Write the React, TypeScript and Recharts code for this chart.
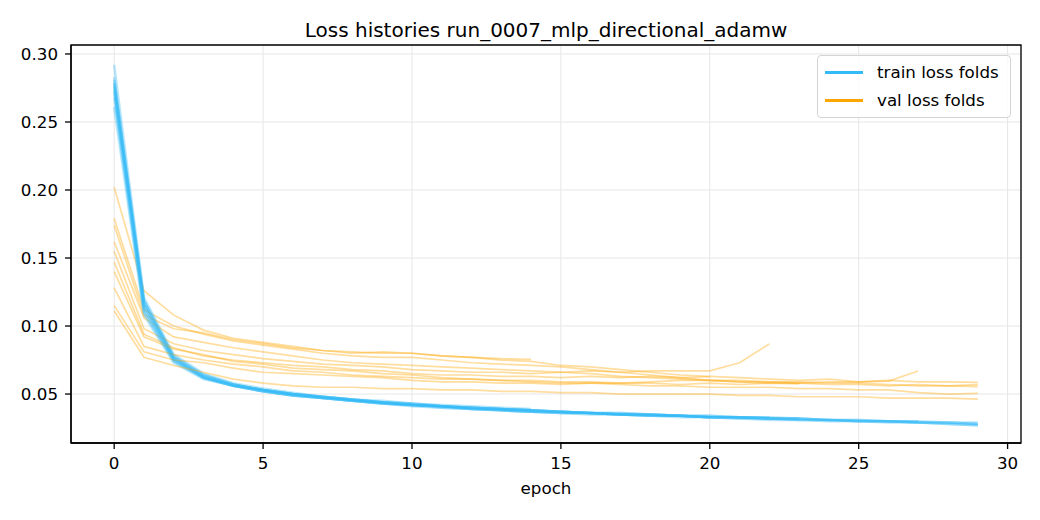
import React from 'react';
import { LineChart, Line, XAxis, YAxis, CartesianGrid, ReferenceArea } from 'recharts';

const epochs = [0, 1, 2, 3, 4, 5, 6, 7, 8, 9, 10, 11, 12, 13, 14, 15, 16, 17, 18, 19, 20, 21, 22, 23, 24, 25, 26, 27, 28, 29];
const xTicks = [0, 5, 10, 15, 20, 25, 30];
const yTicks = [0.05, 0.1, 0.15, 0.2, 0.25, 0.3];
const X_DOMAIN: [number, number] = [-1.45, 30.45];
const Y_DOMAIN: [number, number] = [0.014, 0.3066];

const train1 = [0.281, 0.118, 0.077, 0.063, 0.057, 0.053, 0.050, 0.047, 0.045, 0.044, 0.042, 0.041, 0.040, 0.039, 0.038, 0.037, 0.036, 0.035, 0.035, 0.034, 0.033, 0.033, 0.032, 0.032, 0.031, 0.030, 0.030, 0.029, 0.029, 0.028];
const train2 = [0.278, 0.115, 0.076, 0.062, 0.056, 0.053, 0.050, 0.048, 0.046, 0.044, 0.043, 0.041, 0.040, 0.039, 0.038, 0.037, 0.036, 0.036, 0.035, 0.034, 0.034, 0.033, 0.032, 0.032, 0.031, 0.031, 0.030, 0.030, 0.029, 0.029];
const train3 = [0.292, 0.121, 0.079, 0.065, 0.058, 0.054, 0.051, 0.048, 0.046, 0.045, 0.043, 0.042, 0.041, 0.040, 0.039];
const train4 = [0.261, 0.108, 0.073, 0.061, 0.056, 0.052, 0.049, 0.047, 0.045, 0.043, 0.041, 0.040, 0.039, 0.038, 0.037, 0.036, 0.035, 0.035, 0.034, 0.033, 0.033, 0.032, 0.031, 0.031, 0.030, 0.030, 0.029, 0.029, 0.028, 0.027];
const train5 = [0.276, 0.117, 0.078, 0.064, 0.057, 0.053, 0.050, 0.048, 0.046, 0.044, 0.042, 0.041, 0.040, 0.039, 0.038, 0.037, 0.036, 0.035, 0.035, 0.034, 0.033, 0.033, 0.033];
const train6 = [0.272, 0.112, 0.075, 0.062, 0.056, 0.052, 0.049, 0.047, 0.045, 0.043, 0.042, 0.041, 0.039, 0.038, 0.037, 0.036, 0.036, 0.035, 0.034, 0.034, 0.033];
const train7 = [0.283, 0.119, 0.077, 0.064, 0.057, 0.053, 0.050, 0.048, 0.046, 0.044, 0.043, 0.041, 0.040, 0.039, 0.038, 0.037, 0.036, 0.036, 0.035, 0.034, 0.034, 0.033, 0.033, 0.032];
const train8 = [0.268, 0.110, 0.074, 0.062, 0.056, 0.052, 0.049, 0.047, 0.045, 0.043, 0.042, 0.040, 0.039, 0.038, 0.037, 0.036, 0.036, 0.035, 0.034, 0.034, 0.033, 0.032, 0.032, 0.031, 0.031, 0.030, 0.030, 0.029, 0.029, 0.028];
const train9 = [0.279, 0.116, 0.076, 0.063, 0.057, 0.053, 0.050, 0.048, 0.046, 0.044, 0.042, 0.041, 0.040, 0.039, 0.038, 0.037, 0.036, 0.035, 0.035, 0.034, 0.033, 0.033, 0.032, 0.032, 0.031, 0.031, 0.030, 0.030];
const train10 = [0.274, 0.113, 0.075, 0.062, 0.056, 0.052, 0.049, 0.047, 0.045, 0.043, 0.042, 0.041, 0.039, 0.038, 0.037, 0.037, 0.036, 0.035, 0.034, 0.034, 0.033, 0.033, 0.032, 0.031, 0.031, 0.030, 0.030, 0.029, 0.028, 0.027];

const val1 = [0.202, 0.126, 0.108, 0.097, 0.091, 0.088, 0.085, 0.082, 0.080, 0.081, 0.080, 0.078, 0.077, 0.075, 0.074, 0.071, 0.070, 0.068, 0.066, 0.064, 0.063, 0.062, 0.061, 0.060, 0.061, 0.059, 0.060, 0.059, 0.059, 0.0586];
const val2 = [0.179, 0.112, 0.100, 0.094, 0.089, 0.086, 0.083, 0.080, 0.078, 0.077, 0.077, 0.075, 0.073, 0.072, 0.071, 0.070, 0.068, 0.066, 0.064, 0.062, 0.060, 0.059, 0.058, 0.058, 0.057, 0.057, 0.056, 0.057, 0.056, 0.0569];
const val3 = [0.174, 0.108, 0.098, 0.095, 0.090, 0.087, 0.084, 0.082, 0.081, 0.080, 0.080, 0.078, 0.077, 0.076, 0.0755];
const val4 = [0.162, 0.106, 0.092, 0.088, 0.084, 0.081, 0.078, 0.075, 0.073, 0.072, 0.071, 0.070, 0.069, 0.068, 0.067, 0.066, 0.065, 0.063, 0.062, 0.061, 0.060, 0.060, 0.059, 0.059, 0.058, 0.058, 0.057, 0.056, 0.056, 0.0554];
const val5 = [0.155, 0.098, 0.087, 0.082, 0.079, 0.076, 0.074, 0.072, 0.071, 0.070, 0.068, 0.067, 0.066, 0.066, 0.065, 0.066, 0.067, 0.066, 0.067, 0.067, 0.067, 0.073, 0.0868];
const val6 = [0.147, 0.094, 0.084, 0.078, 0.075, 0.073, 0.071, 0.070, 0.068, 0.067, 0.065, 0.064, 0.064, 0.063, 0.063, 0.062, 0.063, 0.062, 0.063, 0.062, 0.0627];
const val7 = [0.140, 0.092, 0.083, 0.079, 0.074, 0.072, 0.069, 0.068, 0.067, 0.065, 0.064, 0.062, 0.061, 0.060, 0.060, 0.059, 0.059, 0.058, 0.058, 0.057, 0.058, 0.057, 0.058, 0.0574];
const val8 = [0.128, 0.085, 0.079, 0.075, 0.072, 0.070, 0.067, 0.066, 0.064, 0.063, 0.062, 0.061, 0.061, 0.060, 0.059, 0.058, 0.058, 0.057, 0.056, 0.056, 0.055, 0.055, 0.055, 0.054, 0.054, 0.053, 0.053, 0.051, 0.050, 0.0505];
const val9 = [0.115, 0.081, 0.075, 0.073, 0.069, 0.066, 0.065, 0.064, 0.063, 0.062, 0.060, 0.059, 0.059, 0.058, 0.058, 0.057, 0.058, 0.058, 0.059, 0.060, 0.060, 0.059, 0.059, 0.058, 0.059, 0.059, 0.0595, 0.0669];
const val10 = [0.111, 0.077, 0.071, 0.066, 0.061, 0.058, 0.056, 0.055, 0.055, 0.054, 0.054, 0.053, 0.053, 0.052, 0.052, 0.051, 0.051, 0.050, 0.050, 0.050, 0.050, 0.049, 0.049, 0.048, 0.048, 0.048, 0.047, 0.047, 0.047, 0.0463];

const trainFolds = [train1, train2, train3, train4, train5, train6, train7, train8, train9, train10];
const valFolds = [val1, val2, val3, val4, val5, val6, val7, val8, val9, val10];

const TRAIN_COLOR = '#33bbf7';
const VAL_COLOR = '#ffa500';
const FONT = '"DejaVu Sans", sans-serif';

const rows = epochs.map((e, i) => {
  const r: Record<string, number | undefined> = { epoch: e };
  trainFolds.forEach((f, k) => { r['t' + k] = f[i]; });
  valFolds.forEach((f, k) => { r['v' + k] = f[i]; });
  return r;
});

const tickStyle = { fill: '#000', fontSize: 16.7, fontFamily: FONT };

export default function App() {
  const lines: React.ReactNode[] = [];
  trainFolds.forEach((_, k) => {
    lines.push(
      <Line key={'t' + k} dataKey={'t' + k} stroke={TRAIN_COLOR} strokeOpacity={0.35} strokeWidth={2.5}
        dot={false} activeDot={false} isAnimationActive={false} connectNulls={false} />
    );
    lines.push(
      <Line key={'v' + k} dataKey={'v' + k} stroke={VAL_COLOR} strokeOpacity={0.38} strokeWidth={1.7}
        dot={false} activeDot={false} isAnimationActive={false} connectNulls={false} />
    );
  });

  return (
    <div style={{ position: 'relative', width: 1040, height: 520, fontFamily: FONT, background: '#fff' }}>
      <style>{'body{margin:0}'}</style>
      <div style={{ position: 'absolute', left: 246, width: 600, top: 18, textAlign: 'center', fontSize: 20, lineHeight: '24px', color: '#000' }}>
        Loss histories run_0007_mlp_directional_adamw
      </div>
      <LineChart width={1040} height={520} data={rows} margin={{ top: 45, right: 19, bottom: 0, left: 0 }}>
        <CartesianGrid stroke="#e6e6e6" strokeWidth={1} />
        <XAxis dataKey="epoch" type="number" domain={X_DOMAIN} ticks={xTicks} allowDataOverflow
          height={77} tickSize={6} tickMargin={8} tick={tickStyle}
          axisLine={{ stroke: '#000', strokeWidth: 1.3 }} tickLine={{ stroke: '#000', strokeWidth: 1.3 }} />
        <YAxis type="number" domain={Y_DOMAIN} ticks={yTicks} allowDataOverflow
          width={71} tickSize={6} tickMargin={7} tick={tickStyle}
          tickFormatter={(v: number) => v.toFixed(2)}
          axisLine={{ stroke: '#000', strokeWidth: 1.3 }} tickLine={{ stroke: '#000', strokeWidth: 1.3 }} />
        {lines}
        <ReferenceArea x1={X_DOMAIN[0]} x2={X_DOMAIN[1]} y1={Y_DOMAIN[0]} y2={Y_DOMAIN[1]}
          fill="none" fillOpacity={0} stroke="#000" strokeWidth={1.3} strokeOpacity={1} ifOverflow="visible" />
      </LineChart>
      <div style={{ position: 'absolute', left: 446, width: 200, top: 478, textAlign: 'center', fontSize: 16.7, lineHeight: '20px', color: '#000' }}>
        epoch
      </div>
      <div style={{ position: 'absolute', left: 817, top: 55, width: 192, height: 61, border: '1px solid #d4d4d4', borderRadius: 4, background: 'rgba(255,255,255,0.8)', boxSizing: 'content-box' }}>
        {[{ c: TRAIN_COLOR, t: 'train loss folds', y: 16 }, { c: VAL_COLOR, t: 'val loss folds', y: 44 }].map((it) => (
          <div key={it.t} style={{ position: 'absolute', left: 0, top: it.y - 10, height: 20, width: 192 }}>
            <div style={{ position: 'absolute', left: 7, top: 9, width: 38, height: 2.5, background: it.c }} />
            <div style={{ position: 'absolute', left: 59, top: 0, fontSize: 16.7, lineHeight: '20px', color: '#000', whiteSpace: 'nowrap' }}>{it.t}</div>
          </div>
        ))}
      </div>
    </div>
  );
}
